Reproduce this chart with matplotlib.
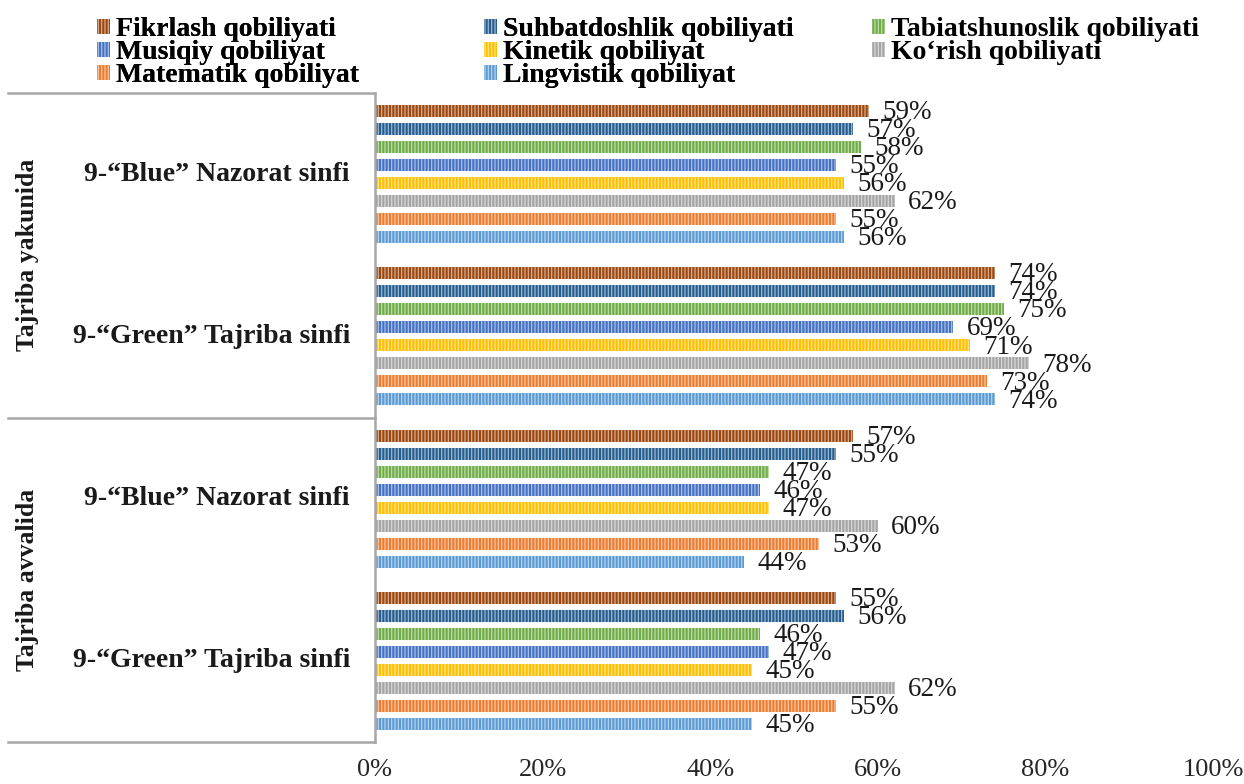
import matplotlib
matplotlib.use("Agg")
import matplotlib.pyplot as plt
import matplotlib.colors as mcolors
import numpy as np

plt.rcParams['font.family'] = ['Liberation Serif', 'DejaVu Serif']
plt.rcParams['hatch.linewidth'] = 0.9

# top-to-bottom order of the bar rows
series = ["Fikrlash qobiliyati", "Suhbatdoshlik qobiliyati", "Tabiatshunoslik qobiliyati",
          "Musiqiy qobiliyat", "Kinetik qobiliyat", "Ko\u2018rish qobiliyati",
          "Matematik qobiliyat", "Lingvistik qobiliyat"]
colors = ["#9E480E", "#255E91", "#70AD47", "#4472C4", "#FFC000", "#A5A5A5", "#ED7D31", "#5B9BD5"]

groups = ["9-\u201cBlue\u201d Nazorat sinfi", "9-\u201cGreen\u201d Tajriba sinfi",
          "9-\u201cBlue\u201d Nazorat sinfi", "9-\u201cGreen\u201d Tajriba sinfi"]
stages = ["Tajriba yakunida", "Tajriba avvalida"]

# values per group (top to bottom), series order as above
yak_blue = [59, 57, 58, 55, 56, 62, 55, 56]
yak_green = [74, 74, 75, 69, 71, 78, 73, 74]
avv_blue = [57, 55, 47, 46, 47, 60, 53, 44]
avv_green = [55, 56, 46, 47, 45, 62, 55, 45]
data = [yak_blue, yak_green, avv_blue, avv_green]

ticks = [0, 20, 40, 60, 80, 100]

fig = plt.figure(figsize=(12.44, 7.84), dpi=100)
ax = fig.add_axes([375/1244, 1-742/784, 838/1244, 649/784])

ycent = [3, 2, 1, 0]
step = 18/162
h = 12/162

handles = []
for i, name in enumerate(series):
    light = tuple(0.45*np.array(mcolors.to_rgb(colors[i])) + 0.55)
    vals = [d[i]/100 for d in data]
    ys = [c + (3.5 - i)*step for c in ycent]
    b = ax.barh(ys, vals, height=h, color=colors[i], edgecolor=light,
                linewidth=0, hatch='|||||', label=name)
    handles.append(b)
    for y, v in zip(ys, vals):
        ax.text(v + 0.016, y - 0.01, f"{int(round(v*100))}%", va='center', ha='left',
                fontsize=19.5, color='#1a1a1a')

ax.set_xlim(0, 1)
ax.set_ylim(-0.5, 3.5)
ax.set_xticks([t/100 for t in ticks])
ax.set_xticklabels([f"{t}%" for t in ticks], fontsize=19, color='#262626')
ax.tick_params(axis='x', length=0, pad=12)
ax.set_yticks([])
for s in ['top', 'right', 'bottom']:
    ax.spines[s].set_visible(False)
ax.spines['left'].set_color('#A6A6A6')
ax.spines['left'].set_linewidth(1.8)

# group labels
tr = ax.get_yaxis_transform()
for c, g in zip(ycent, groups):
    ax.text(-25/838, c, g, transform=tr, ha='right', va='center',
            fontsize=20, fontweight='bold', color='#1a1a1a')
# stage labels and separators
for yy in [3.5, 1.5, -0.5]:
    ax.plot([-367/838, 0], [yy, yy], transform=tr, color='#A6A6A6', lw=1.8, clip_on=False)
for c, s in zip([2.5, 0.5], stages):
    ax.text(-347/838, c, s, transform=tr, ha='center', va='center', rotation=90,
            fontsize=18.5, fontweight='bold', color='#1a1a1a')

# legend: three columns placed separately
cols = [[0, 3, 6], [1, 4, 7], [2, 5]]
xpos = [97, 484, 872]
for idx, (col, xp) in enumerate(zip(cols, xpos)):
    leg = fig.legend([handles[k] for k in col], [series[k] for k in col],
                     ncol=1, loc='upper left', bbox_to_anchor=(xp/1244, 1 - 17/784),
                     frameon=False, prop={'weight': 'bold', 'size': 20},
                     handlelength=0.45, handleheight=0.45, handletextpad=0.25,
                     labelspacing=-0.07, borderpad=0, borderaxespad=0)
    if idx < len(cols) - 1:
        fig.add_artist(leg)

fig.savefig("out.png", dpi=100)
